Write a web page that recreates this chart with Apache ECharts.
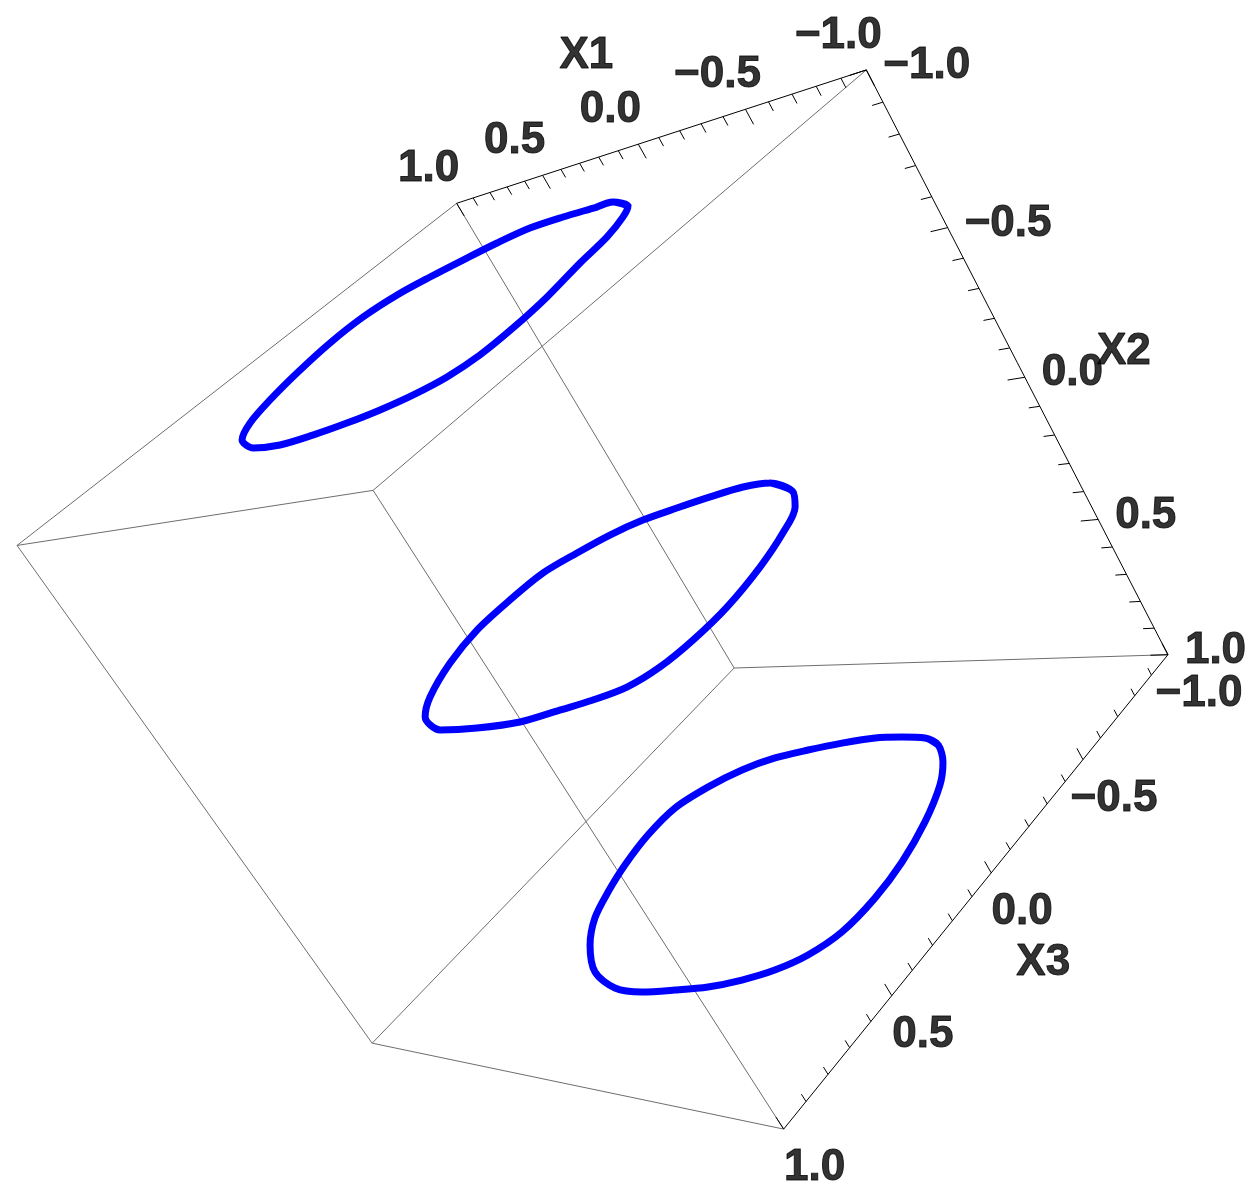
<!DOCTYPE html>
<html><head><meta charset="utf-8">
<script src="https://cdn.jsdelivr.net/npm/echarts@6/dist/echarts.min.js"></script>
<style>html,body{margin:0;padding:0;background:#fff}#chart{width:1258px;height:1202px}</style>
</head><body><div id="chart"></div>
<script>
// ---------------- data ----------------
// three closed curves lying in the planes X2 = -1, 0, 1
const sliceX2 = [-1, 0, 1];
const topX1 = [-0.354,-0.281,-0.117,0.037,0.154,0.261,0.361,0.451,0.506,0.508,0.466,0.407,0.334,0.229,0.069,-0.099,-0.243,-0.373,-0.485,-0.579,-0.656,-0.697,-0.702,-0.683,-0.634,-0.606,-0.552,-0.495];
const topX3 = [-0.523,-0.521,-0.522,-0.511,-0.463,-0.398,-0.330,-0.252,-0.140,0.007,0.182,0.339,0.473,0.578,0.645,0.660,0.639,0.607,0.568,0.519,0.452,0.360,0.234,0.079,-0.105,-0.247,-0.371,-0.451];
const midX1 = [-0.438,-0.274,-0.153,-0.030,0.091,0.213,0.313,0.395,0.470,0.495,0.499,0.450,0.357,0.267,0.114,-0.064,-0.245,-0.376,-0.482,-0.577,-0.635,-0.663,-0.669,-0.639,-0.588,-0.522];
const midX3 = [-0.505,-0.576,-0.572,-0.536,-0.492,-0.442,-0.372,-0.283,-0.182,-0.039,0.119,0.290,0.461,0.558,0.619,0.610,0.583,0.531,0.488,0.433,0.346,0.228,0.079,-0.110,-0.279,-0.417];
const botX1 = [-0.291,-0.185,-0.067,0.066,0.198,0.324,0.434,0.526,0.594,0.603,0.577,0.535,0.481,0.385,0.247,0.094,-0.038,-0.168,-0.292,-0.403,-0.498,-0.576,-0.631,-0.648,-0.635,-0.592,-0.526,-0.457,-0.374];
const botX3 = [-0.595,-0.599,-0.594,-0.566,-0.528,-0.484,-0.418,-0.324,-0.211,-0.069,0.083,0.215,0.337,0.455,0.564,0.616,0.616,0.590,0.560,0.516,0.462,0.389,0.285,0.137,-0.020,-0.199,-0.369,-0.478,-0.561];

const axisRange = [-1, 1];
const tickValues = [-1, -0.5, 0, 0.5, 1];
const tickLabels = ['\u22121.0', '\u22120.5', '0.0', '0.5', '1.0'];
const minorStep = 0.1;
const axisTitles = ['X1', 'X2', 'X3'];

// ---------------- view: perspective camera (3x4 projection) ----------------
const CAM = [-133.3231, 194.4401, -252.2767, 596.9432,
              84.26984, 298.0851, 154.5274, 600.4997,
              0.1161182, 0.04903011, -0.07484615, 1];
function proj(p) {
  const [X, Y, Z] = p;
  const w = CAM[8]*X + CAM[9]*Y + CAM[10]*Z + CAM[11];
  return [(CAM[0]*X + CAM[1]*Y + CAM[2]*Z + CAM[3]) / w,
          (CAM[4]*X + CAM[5]*Y + CAM[6]*Z + CAM[7]) / w];
}

const W = 1258, H = 1202;
const lo = axisRange[0], hi = axisRange[1];
const FONT = {fontFamily: 'Liberation Sans, Arial, Helvetica, sans-serif', fontWeight: 'bold', fontSize: 44,
              color: '#000000', textBorderColor: '#000000', textBorderWidth: 1};

// ---------------- box edges ----------------
const corners = [];
for (const a of [lo, hi]) for (const b of [lo, hi]) for (const c of [lo, hi]) corners.push([a, b, c]);
const axisEdgeKeys = [
  [[lo, lo, lo], [hi, lo, lo]],   // X1 axis edge
  [[lo, lo, lo], [lo, hi, lo]],   // X2 axis edge
  [[lo, hi, lo], [lo, hi, hi]]    // X3 axis edge
].map(e => JSON.stringify(e[0]) + JSON.stringify(e[1]));
const grayEdges = [], blackEdges = [];
for (let i = 0; i < 8; i++) for (let j = i + 1; j < 8; j++) {
  const a = corners[i], b = corners[j];
  let diff = 0; for (let k = 0; k < 3; k++) if (a[k] !== b[k]) diff++;
  if (diff !== 1) continue;
  const key1 = JSON.stringify(a) + JSON.stringify(b), key2 = JSON.stringify(b) + JSON.stringify(a);
  const item = {coords: [proj(a), proj(b)]};
  if (axisEdgeKeys.includes(key1) || axisEdgeKeys.includes(key2)) blackEdges.push(item); else grayEdges.push(item);
}

// ---------------- ticks ----------------
const axesDef = [
  {pt: t => [t, lo, lo], dir: [0, 1, 0], major: 0.05, minor: 0.03},
  {pt: t => [lo, t, lo], dir: [1, 0, 0], major: 0.066, minor: 0.042},
  {pt: t => [lo, hi, t], dir: [0, -1, 0], major: 0.042, minor: 0.026}
];
const tickSegs = [];
const nMinor = Math.round((hi - lo) / minorStep);
axesDef.forEach(ax => {
  for (let i = 0; i <= nMinor; i++) {
    const t = lo + i * minorStep;
    const isMajor = tickValues.some(v => Math.abs(v - t) < 1e-9);
    const L = isMajor ? ax.major : ax.minor;
    const p0 = ax.pt(t);
    const p1 = p0.map((v, k) => v + ax.dir[k] * L);
    tickSegs.push({coords: [proj(p0), proj(p1)]});
  }
});

// ---------------- tick labels & axis titles ----------------
const labelStyle = [
  {align: 'center', offset: [-28, -34]},
  {align: 'left', offset: [17, -4]},
  {align: 'center', offset: [31, 39]}
];
const labelSeries = axesDef.map((ax, k) => ({
  type: 'scatter', symbolSize: 1, silent: true, z: 5,
  itemStyle: {color: 'rgba(0,0,0,0)'},
  data: tickValues.map((v, i) => ({name: tickLabels[i], value: proj(ax.pt(v))})),
  label: Object.assign({show: true, position: 'inside', formatter: '{b}', verticalAlign: 'middle'}, FONT, labelStyle[k])
}));
const titleOffsets = [[-52, -88], [99, -25], [52, 90]];
const titleSeries = {
  type: 'scatter', symbolSize: 1, silent: true, z: 5,
  itemStyle: {color: 'rgba(0,0,0,0)'},
  data: axesDef.map((ax, k) => ({
    name: axisTitles[k], value: proj(ax.pt(0)),
    label: {offset: titleOffsets[k]}
  })),
  label: Object.assign({show: true, position: 'inside', formatter: '{b}', align: 'center', verticalAlign: 'middle'}, FONT)
};

// ---------------- curves ----------------
function curveData(x1s, x3s, x2) {
  const pts = x1s.map((v, i) => proj([v, x2, x3s[i]]));
  const n = pts.length;
  return [pts[n - 1]].concat(pts, [pts[0], pts[1]]);
}
const curveSets = [[topX1, topX3, sliceX2[0]], [midX1, midX3, sliceX2[1]], [botX1, botX3, sliceX2[2]]];
const curveSeries = curveSets.map(cs => ({
  type: 'line', data: curveData(cs[0], cs[1], cs[2]), smooth: 0.3,
  symbol: 'none', silent: true, z: 4,
  lineStyle: {color: '#0000ff', width: 7, cap: 'round', join: 'round'}
}));

const chart = echarts.init(document.getElementById('chart'), null, {renderer: 'canvas', width: W, height: H});
chart.setOption({
  backgroundColor: '#ffffff',
  animation: false,
  grid: {left: 0, right: 0, top: 0, bottom: 0},
  xAxis: {type: 'value', min: 0, max: W, show: false},
  yAxis: {type: 'value', min: 0, max: H, inverse: true, show: false},
  series: [
    {type: 'lines', coordinateSystem: 'cartesian2d', silent: true, z: 2, data: grayEdges,
     lineStyle: {color: '#6e6e6e', width: 1, opacity: 1, curveness: 0}},
    {type: 'lines', coordinateSystem: 'cartesian2d', silent: true, z: 3, data: blackEdges.concat(tickSegs),
     lineStyle: {color: '#000000', width: 1, opacity: 1, curveness: 0}}
  ].concat(curveSeries, labelSeries, [titleSeries])
});
</script></body></html>
